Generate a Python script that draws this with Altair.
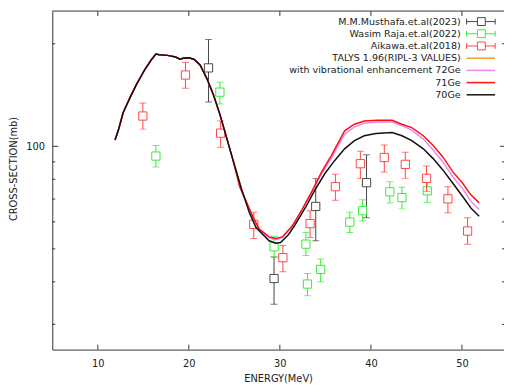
import altair as alt
import pandas as pd

# ---------------- data ----------------
# 70Ge (black)
e_70 = [11.89, 12.24, 12.78, 13.51, 14.22, 15.13, 15.84, 16.38, 16.75, 17.65, 18.55, 19.02, 19.45, 19.99,
        20.54, 20.89, 21.25, 21.97, 22.70, 23.41, 24.14, 24.86, 25.76, 26.65, 27.38, 28.10, 28.82, 29.54,
        30.08, 30.98, 31.70, 32.78, 33.86, 34.95, 36.03, 37.11, 38.19, 39.27, 40.54, 42.33, 43.41, 44.49,
        45.76, 46.84, 47.92, 49.00, 50.08, 50.98, 51.89]
s_70 = [104.3, 111.0, 125.4, 138.5, 151.4, 167.4, 178.9, 186.6, 185.6, 184.9, 182.9, 180.1, 181.6, 182.0,
        180.1, 176.9, 173.0, 158.3, 141.7, 124.1, 106.2, 90.9, 75.3, 63.8, 57.7, 55.2, 52.8, 51.9,
        52.2, 55.2, 59.0, 65.9, 74.5, 83.2, 90.9, 98.3, 103.9, 107.4, 109.0, 109.8, 107.4, 103.9,
        98.3, 92.0, 85.1, 77.9, 71.2, 65.9, 62.3]

# 71Ge (red)
e_71 = [11.89, 12.24, 12.78, 13.51, 14.22, 15.13, 15.84, 16.38, 16.75, 17.65, 18.55, 19.02, 19.45, 19.99,
        20.54, 20.89, 21.25, 21.97, 22.70, 23.41, 24.14, 24.86, 25.60, 27.02, 27.74, 28.82, 29.54, 30.26,
        31.35, 32.43, 33.51, 34.59, 35.67, 37.11, 38.19, 39.27, 40.71, 42.33, 43.41, 44.49, 45.76, 46.84,
        47.92, 49.00, 50.08, 50.98, 51.89]
s_71 = [104.3, 111.0, 125.4, 138.5, 151.4, 167.4, 178.9, 186.6, 185.6, 184.9, 182.9, 180.1, 181.6, 182.0,
        180.1, 176.9, 173.0, 158.3, 141.7, 124.1, 106.2, 90.9, 76.0, 62.3, 57.1, 54.2, 53.6, 54.2,
        58.3, 65.2, 73.6, 84.1, 94.0, 111.0, 116.1, 118.6, 119.2, 119.2, 116.1, 113.5, 107.4, 100.5,
        92.9, 84.1, 77.9, 72.0, 68.2]

# with vibrational enhancement 72Ge (pink)
e_72 = [11.89, 12.24, 12.78, 13.51, 14.22, 15.13, 15.84, 16.38, 16.75, 17.65, 18.55, 19.02, 19.45, 19.99,
        20.54, 20.89, 21.25, 21.97, 22.70, 23.41, 24.14, 24.86, 25.60, 27.02, 27.74, 28.82, 29.54, 30.26,
        31.35, 32.43, 33.51, 34.59, 35.67, 37.11, 38.19, 39.27, 40.71, 42.33, 43.41, 44.49, 45.76, 46.84,
        47.92, 49.00, 50.08, 50.98, 51.89]
s_72 = [104.3, 111.0, 125.4, 138.5, 151.4, 167.4, 178.9, 186.6, 185.6, 184.9, 182.9, 180.1, 181.6, 182.0,
        180.1, 176.9, 173.0, 158.3, 141.7, 124.1, 106.2, 90.9, 76.0, 61.8, 56.8, 53.9, 53.2, 53.9,
        58.0, 65.0, 73.4, 83.2, 92.5, 108.5, 114.0, 116.8, 117.8, 117.8, 115.0, 111.5, 105.0, 97.5,
        89.8, 81.4, 75.0, 69.0, 65.2]

# TALYS 1.96 (orange, hidden under the other curves)
e_tal = [11.89, 12.24, 12.78, 13.51, 14.22, 15.13, 15.84, 16.38, 16.75, 17.65, 18.55, 19.02, 19.45, 19.99,
         20.54, 20.89, 21.25, 21.97, 22.70, 23.41, 24.14, 24.86, 25.76]
s_tal = [104.3, 111.0, 125.4, 138.5, 151.4, 167.4, 178.9, 186.6, 185.6, 184.9, 182.9, 180.1, 181.6, 182.0,
         180.1, 176.9, 173.0, 158.3, 141.7, 124.1, 106.2, 90.9, 75.3]

# M.M.Musthafa et al (2023)
e_mus = [22.16, 29.36, 33.94, 39.52]
s_mus = [169.9, 40.9, 66.6, 78.2]
lo_mus = [134.9, 34.4, 52.8, 61.7]
hi_mus = [205.7, 47.3, 80.5, 94.4]

# Wasim Raja et al (2022)
e_was = [16.38, 23.41, 29.36, 32.86, 33.03, 34.48, 37.68, 39.09, 42.08, 43.41, 46.19]
s_was = [93.6, 144.2, 50.7, 51.6, 39.4, 43.5, 59.9, 64.7, 73.5, 70.7, 74.0]
lo_was = [87.0, 133.1, 47.3, 47.8, 36.4, 40.0, 55.8, 60.3, 68.2, 65.5, 68.4]
hi_was = [100.5, 154.1, 54.4, 55.8, 42.3, 46.7, 64.0, 69.7, 78.7, 75.8, 80.5]

# Aikawa et al (2018)
e_aik = [14.95, 19.63, 23.49, 27.13, 30.33, 33.32, 36.10, 38.84, 41.47, 43.78, 46.11, 48.46, 50.62]
s_aik = [122.7, 161.9, 109.3, 59.0, 47.1, 59.3, 76.1, 88.9, 92.7, 88.5, 80.5, 70.1, 56.4]
lo_aik = [112.3, 148.1, 99.3, 53.6, 42.8, 54.0, 69.4, 80.5, 84.1, 80.5, 73.6, 63.8, 51.6]
hi_aik = [134.0, 176.1, 118.6, 64.0, 51.1, 64.7, 82.8, 96.7, 100.9, 96.1, 87.5, 76.1, 61.7]

x_ticks = [10, 20, 30, 40, 50]
y_major = [100]
y_minor = [30, 40, 50, 60, 70, 80, 90, 200]

legend_labels = ["M.M.Musthafa.et.al(2023)", "Wasim Raja.et.al(2022)", "Aikawa.et.al(2018)",
                 "TALYS 1.96(RIPL-3 VALUES)", "with vibrational enhancement 72Ge", "71Ge", "70Ge"]

# ---------------- style ----------------
W, H = 459, 344
FONT = "DejaVu Sans"
C_MUS, C_WAS, C_AIK = "#444444", "#33ee33", "#ff4444"
C_TAL, C_72, C_71, C_70 = "#f0a020", "#ee88ee", "#ff1010", "#111111"
legend_colors = [C_MUS, C_WAS, C_AIK, C_TAL, C_72, C_71, C_70]

xs = alt.Scale(domain=[5, 54.62], nice=False, zero=False)
ys = alt.Scale(type="log", domain=[25.3, 249.5], nice=False)
xaxis = alt.Axis(values=x_ticks, ticks=False, grid=False, labelPadding=9, titlePadding=5,
                 title="ENERGY(MeV)", labelFlush=False)
yaxis = alt.Axis(values=y_major, ticks=False, grid=False, labelPadding=8, format="d",
                 title="CROSS-SECTION(mb)", titleX=-34, titleY=160, labelFlush=False)


def X(f="E"):
    return alt.X(f"{f}:Q", scale=xs, axis=xaxis)


def Y(f):
    return alt.Y(f"{f}:Q", scale=ys, axis=yaxis)


def curve(e, s, color):
    df = pd.DataFrame({"E": e, "S": s})
    return alt.Chart(df).mark_line(color=color, strokeWidth=1.5, clip=True).encode(x=X(), y=Y("S"))


def points(e, s, lo, hi, color):
    df = pd.DataFrame({"E": e, "S": s, "lo": lo, "hi": hi})
    b = alt.Chart(df)
    bar = b.mark_rule(color=color, strokeWidth=1, clip=True).encode(x=X(), y=Y("lo"), y2="hi:Q")
    c1 = b.mark_tick(color=color, orient="horizontal", size=7, thickness=1, clip=True).encode(x=X(), y=Y("lo"))
    c2 = b.mark_tick(color=color, orient="horizontal", size=7, thickness=1, clip=True).encode(x=X(), y=Y("hi"))
    sq = b.mark_square(size=70, fill="white", fillOpacity=1, stroke=color, strokeWidth=1, clip=True).encode(
        x=X(), y=Y("S"))
    return [bar, c1, c2, sq]


layers = []
layers += points(e_mus, s_mus, lo_mus, hi_mus, C_MUS)
layers += points(e_was, s_was, lo_was, hi_was, C_WAS)
layers += points(e_aik, s_aik, lo_aik, hi_aik, C_AIK)
layers.append(curve(e_tal, s_tal, C_TAL))
layers.append(curve(e_72, s_72, C_72))
layers.append(curve(e_71, s_71, C_71))
layers.append(curve(e_70, s_70, C_70))

# inward tick marks (gnuplot style) and top frame
TC = "#333333"
xt = alt.Chart(pd.DataFrame({"E": x_ticks}))
layers.append(xt.mark_rule(color=TC).encode(x=X(), y=alt.value(H), y2=alt.value(H - 5)))
layers.append(xt.mark_rule(color=TC).encode(x=X(), y=alt.value(0), y2=alt.value(5)))
ym = alt.Chart(pd.DataFrame({"S": y_major}))
layers.append(ym.mark_rule(color=TC).encode(y=Y("S"), x=alt.value(0), x2=alt.value(6)))
layers.append(ym.mark_rule(color=TC).encode(y=Y("S"), x=alt.value(W), x2=alt.value(W - 4)))
yn = alt.Chart(pd.DataFrame({"S": y_minor}))
layers.append(yn.mark_rule(color=TC).encode(y=Y("S"), x=alt.value(0), x2=alt.value(3)))
layers.append(yn.mark_rule(color=TC).encode(y=Y("S"), x=alt.value(W), x2=alt.value(W - 2)))
one = pd.DataFrame({"k": [0]})
layers.append(alt.Chart(one).mark_rule(color=TC).encode(x=alt.value(0), x2=alt.value(W), y=alt.value(0)))

# legend (label left, sample right)
LX_TEXT, LX0, LX1, LXS = 415, 421, 450, 436
for i, (lab, col) in enumerate(zip(legend_labels, legend_colors)):
    yy = 10.7 + 12.4 * i
    layers.append(alt.Chart(one).mark_text(align="right", baseline="middle", font=FONT, fontSize=9.7,
                                           color="#222222").encode(
        x=alt.value(LX_TEXT), y=alt.value(yy), text=alt.value(lab)))
    if i < 3:
        layers.append(alt.Chart(one).mark_rule(color=col, strokeWidth=1).encode(
            x=alt.value(LX0), x2=alt.value(LX1), y=alt.value(yy)))
        for xx in (LX0, LX1):
            layers.append(alt.Chart(one).mark_rule(color=col, strokeWidth=1).encode(
                x=alt.value(xx), y=alt.value(yy - 3), y2=alt.value(yy + 3)))
        layers.append(alt.Chart(one).mark_square(size=64, fill="white", fillOpacity=1, stroke=col,
                                                 strokeWidth=1).encode(x=alt.value(LXS), y=alt.value(yy)))
    else:
        layers.append(alt.Chart(one).mark_rule(color=col, strokeWidth=1.5).encode(
            x=alt.value(LX0), x2=alt.value(LX1), y=alt.value(yy)))

chart = alt.layer(*layers).properties(
    width=W, height=H,
    padding={"left": 45, "top": 0, "right": 0, "bottom": 40},
    autosize=alt.AutoSizeParams(type="none"),
).configure_axis(
    labelFont=FONT, titleFont=FONT, labelFontSize=10, titleFontSize=10, titleFontWeight="normal",
    labelColor="#222222", titleColor="#222222", domainColor="#333333", domainWidth=1,
).configure_view(stroke=None)

chart.save("out.html", embed_options={"renderer": "svg", "actions": False})
